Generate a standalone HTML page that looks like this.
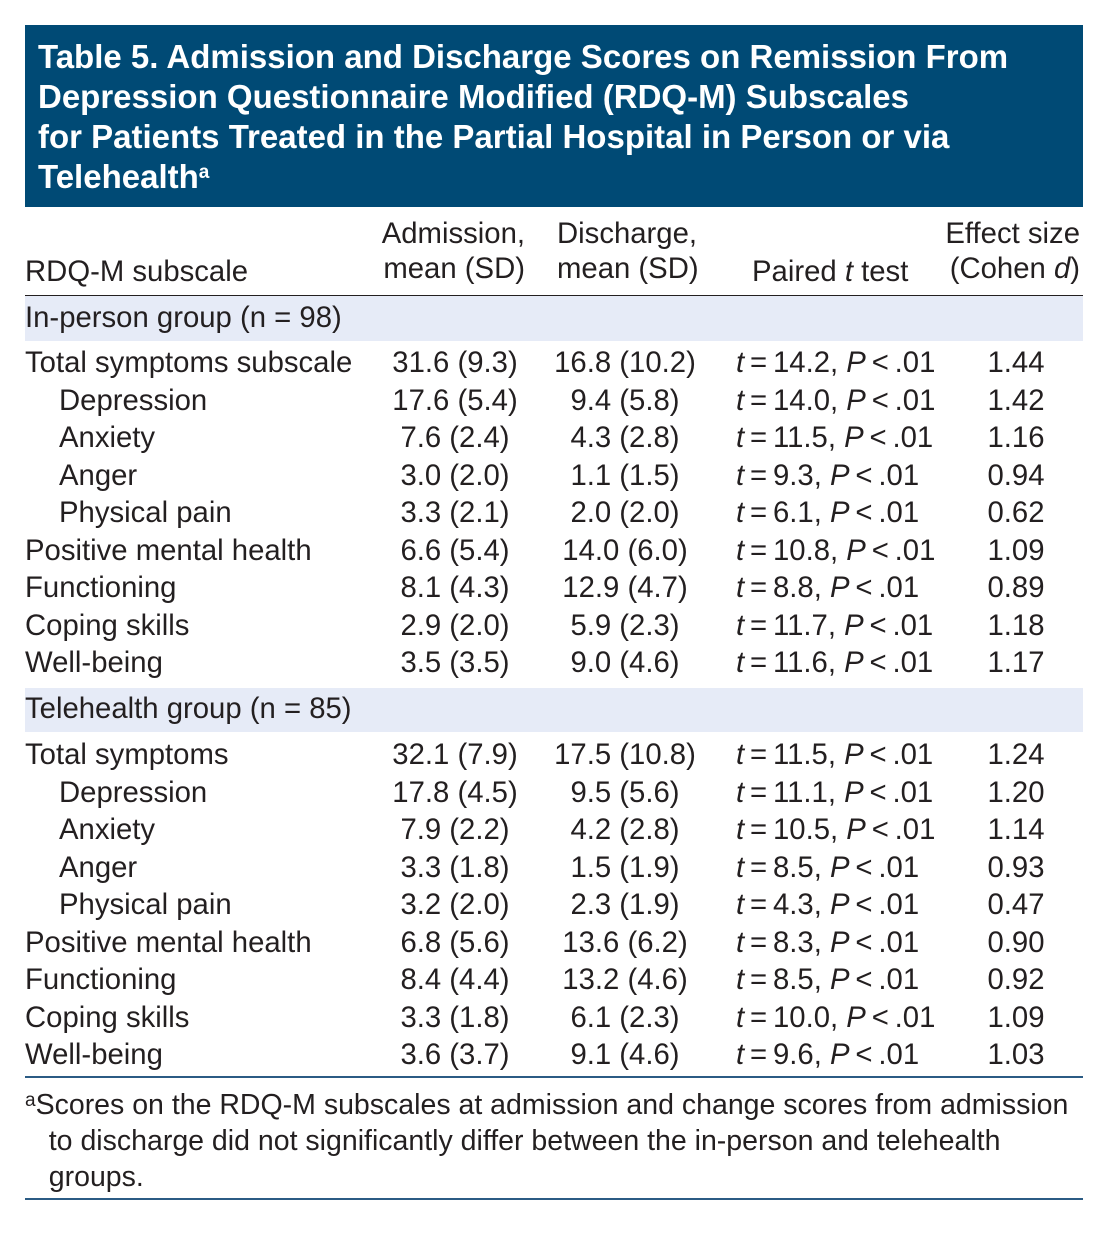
<!DOCTYPE html>
<html><head><meta charset="utf-8"><style>
body{margin:0;width:1110px;height:1236px;background:#fff;position:relative;font-family:"Liberation Sans",Arial,sans-serif;color:#231f20;overflow:hidden}
.title{position:absolute;left:25px;top:25px;width:1058px;height:182px;background:#004a75;color:#fff;font-weight:bold;font-size:33px;line-height:40px;box-sizing:border-box;padding:12px 0 0 13px;white-space:nowrap}
.t{position:absolute;font-size:29.3px;white-space:nowrap;line-height:32px}
.band{position:absolute;left:25px;width:1058px;background:#e6ebf7}
.rule{position:absolute;left:25px;width:1058px}
sup{font-size:19px;vertical-align:top;position:relative;top:-4px}
</style></head><body>
<div class="title">Table 5. Admission and Discharge Scores on Remission From<br>Depression Questionnaire Modified (RDQ-M) Subscales<br>for Patients Treated in the Partial Hospital in Person or via<br>Telehealth<sup>a</sup></div>
<div class="t" style="left:25px;top:256px">RDQ-M subscale</div>
<div class="t" style="left:345px;width:180px;text-align:right;top:218px">Admission,<br><span style="line-height:38px">mean (SD)</span></div>
<div class="t" style="left:557px;top:218px">Discharge,<br><span style="line-height:38px">mean (SD)</span></div>
<div class="t" style="left:752px;top:256px">Paired <i>t</i> test</div>
<div class="t" style="left:880px;width:200px;text-align:right;top:218px">Effect size<br><span style="line-height:38px">(Cohen <i>d</i>)</span></div>
<div class="rule" style="top:295px;height:1px;background:#231f20"></div>
<div class="band" style="top:296px;height:45px"></div>
<div class="band" style="top:688px;height:44px"></div>
<div class="t" style="left:25px;top:302px">In-person group (n = 98)</div>
<div class="t" style="left:25px;top:693px">Telehealth group (n = 85)</div>
<div id="rows"></div>
<div class="rule" style="top:1076px;height:2px;background:#2b5b84"></div>
<div class="t" style="left:25px;top:1087px;line-height:36px;font-size:28.5px"><sup>a</sup>Scores on the RDQ-M subscales at admission and change scores from admission<br>&nbsp;&nbsp;&nbsp;to discharge did not significantly differ between the in-person and telehealth<br>&nbsp;&nbsp;&nbsp;groups.</div>
<div class="rule" style="top:1198px;height:2px;background:#2b5b84"></div>
<script>
const labels=["Total symptoms subscale","Depression","Anxiety","Anger","Physical pain","Positive mental health","Functioning","Coping skills","Well-being"];
const labels2=["Total symptoms","Depression","Anxiety","Anger","Physical pain","Positive mental health","Functioning","Coping skills","Well-being"];
const indent=[0,1,1,1,1,0,0,0,0];
const adm1=["31.6 (9.3)","17.6 (5.4)","7.6 (2.4)","3.0 (2.0)","3.3 (2.1)","6.6 (5.4)","8.1 (4.3)","2.9 (2.0)","3.5 (3.5)"];
const dis1=["16.8 (10.2)","9.4 (5.8)","4.3 (2.8)","1.1 (1.5)","2.0 (2.0)","14.0 (6.0)","12.9 (4.7)","5.9 (2.3)","9.0 (4.6)"];
const tv1=["14.2","14.0","11.5","9.3","6.1","10.8","8.8","11.7","11.6"];
const d1=["1.44","1.42","1.16","0.94","0.62","1.09","0.89","1.18","1.17"];
const adm2=["32.1 (7.9)","17.8 (4.5)","7.9 (2.2)","3.3 (1.8)","3.2 (2.0)","6.8 (5.6)","8.4 (4.4)","3.3 (1.8)","3.6 (3.7)"];
const dis2=["17.5 (10.8)","9.5 (5.6)","4.2 (2.8)","1.5 (1.9)","2.3 (1.9)","13.6 (6.2)","13.2 (4.6)","6.1 (2.3)","9.1 (4.6)"];
const tv2=["11.5","11.1","10.5","8.5","4.3","8.3","8.5","10.0","9.6"];
const d2=["1.24","1.20","1.14","0.93","0.47","0.90","0.92","1.09","1.03"];
const host=document.getElementById('rows');
function cell(txt,left,width,align,top,name){
  const e=document.createElement('div');
  e.className='t';
  e.innerHTML=txt;
  e.style.left=left+'px';e.style.top=top+'px';
  if(width){e.style.width=width+'px';e.style.textAlign=align;}
  
  
  host.appendChild(e);
}
function group(lab,adm,dis,tv,d,y0,pre){
  for(let i=0;i<lab.length;i++){
    const top=y0+i*37.5-16;
    cell(lab[i],25+indent[i]*34,0,'',top,pre+'-label');
    cell(adm[i],375,160,'center',top,pre+'-admission');
    cell(dis[i],545,160,'center',top,pre+'-discharge');
    cell('<i>t</i>\u2009=\u2009'+tv[i]+', <i>P</i>\u2009&lt;\u2009.01',736,0,'',top,pre+'-ttest');
    cell(d[i],936,160,'center',top,pre+'-effect');
  }
}
group(labels,adm1,dis1,tv1,d1,363,'inperson-row');
group(labels2,adm2,dis2,tv2,d2,755,'telehealth-row');
</script>
</body></html>
